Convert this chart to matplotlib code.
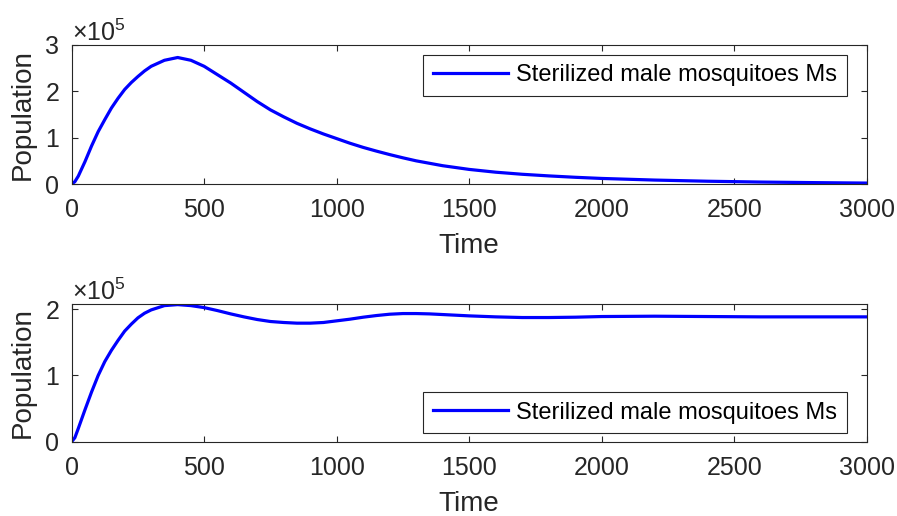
import matplotlib
matplotlib.use("Agg")
import matplotlib.pyplot as plt
from matplotlib.ticker import ScalarFormatter

plt.rcParams['font.family'] = ['Liberation Sans', 'DejaVu Sans']
plt.rcParams['mathtext.fontset'] = 'custom'
plt.rcParams['mathtext.rm'] = 'Liberation Sans'

# sterilized males, constant release
t_top = [0, 12, 25, 50, 75, 100, 125, 150, 175, 200, 225, 250, 275, 300, 350,
         400, 450, 500, 550, 600, 650, 700, 750, 800, 850, 900, 950, 1000,
         1050, 1100, 1150, 1200, 1250, 1300, 1400, 1500, 1600, 1700, 1800,
         1900, 2000, 2200, 2400, 2600, 2800, 3000]
ms_top = [0, 5000, 17000, 48000, 82000, 113000, 139000, 164000, 185000,
          204000, 219000, 232000, 244000, 254000, 267000, 273000, 267000,
          254000, 236000, 218000, 198000, 178000, 160000, 145000, 131000,
          119000, 108000, 98000, 88000, 79000, 71000, 63500, 56500, 50000,
          39500, 31500, 25500, 21000, 17500, 14500, 12000, 8500, 6000, 4200,
          3000, 2000]

# sterilized males, second scenario
t_bot = [0, 12, 25, 50, 75, 100, 125, 150, 175, 200, 225, 250, 275, 300, 350,
         400, 450, 500, 550, 600, 650, 700, 750, 800, 850, 900, 950, 1000,
         1050, 1100, 1150, 1200, 1250, 1300, 1350, 1400, 1500, 1600, 1700,
         1800, 1900, 2000, 2200, 2400, 2600, 3000]
ms_bot = [0, 6000, 20000, 48000, 75000, 100000, 121000, 138000, 153000,
          167000, 177500, 187000, 194000, 199000, 205500, 207000, 205500,
          202500, 198000, 193000, 188500, 184500, 181500, 180000, 179000,
          179000, 180000, 182500, 185000, 188000, 190500, 192500, 193500,
          193500, 193000, 192000, 190000, 188500, 187500, 187500, 188000,
          189000, 189500, 189000, 188500, 188500]

label = 'Sterilized male mosquitoes Ms'
axc = '#262626'

fig = plt.figure(figsize=(8.97, 5.16), dpi=100)
ax1 = fig.add_axes([0.0799, 0.6434, 0.8863, 0.2694])
ax2 = fig.add_axes([0.0799, 0.1440, 0.8863, 0.2663])


def style(ax):
    for s in ax.spines.values():
        s.set_color(axc)
        s.set_linewidth(0.8)
    ax.tick_params(direction='in', length=4, width=0.8, color=axc,
                   labelcolor=axc, labelsize=18, top=True, right=True)
    ax.tick_params(axis='x', pad=10)
    ax.tick_params(axis='y', pad=9)
    fmt = ScalarFormatter(useMathText=True)
    fmt.set_powerlimits((0, 0))
    ax.yaxis.set_major_formatter(fmt)
    ax.yaxis.get_offset_text().set_fontsize(18)
    ax.yaxis.get_offset_text().set_color(axc)
    ax.set_xlim(0, 3000)
    ax.set_xticks([0, 500, 1000, 1500, 2000, 2500, 3000])
    ax.set_xlabel('Time', fontsize=20, color=axc, labelpad=8)
    ax.set_ylabel('Population', fontsize=20, color=axc, labelpad=6)


def add_legend(ax, loc, anchor):
    leg = ax.legend(loc=loc, bbox_to_anchor=anchor, borderaxespad=0,
                    fontsize=17, fancybox=False, edgecolor=axc,
                    framealpha=1, handlelength=3.2, handletextpad=0.35,
                    borderpad=0.4)
    leg.get_frame().set_linewidth(0.8)


ax1.plot(t_top, ms_top, color='#0000ff', lw=2.3, label=label,
         solid_joinstyle='round')
ax1.set_ylim(0, 3e5)
ax1.set_yticks([0, 1e5, 2e5, 3e5])
style(ax1)
add_legend(ax1, 'upper right', (0.975, 0.928))

ax2.plot(t_bot, ms_bot, color='#0000ff', lw=2.3, label=label,
         solid_joinstyle='round')
ax2.set_ylim(0, 2.075e5)
ax2.set_yticks([0, 1e5, 2e5])
style(ax2)
add_legend(ax2, 'lower right', (0.975, 0.063))

fig.savefig('out.png', dpi=100)
